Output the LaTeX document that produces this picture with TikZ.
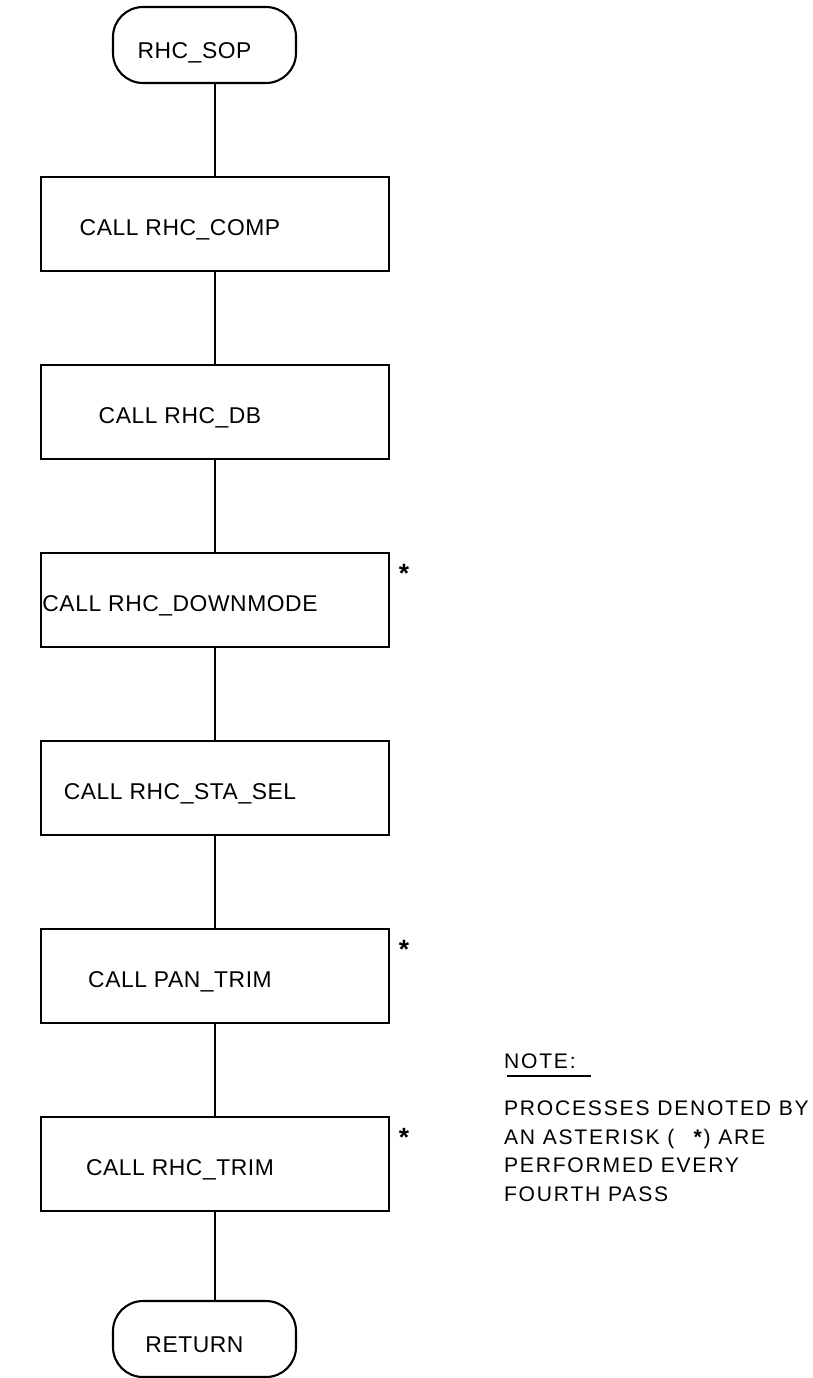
\documentclass[tikz,border=0pt]{standalone}
\usepackage{fontspec}
\setmainfont{Liberation Sans}[LetterSpace=2.5]
\newfontfamily\notefont{Liberation Sans}[LetterSpace=8.5]
\usetikzlibrary{positioning}

\begin{document}
\begin{tikzpicture}[node distance=1.88cm, every node/.style={font=\fontsize{13}{15}\selectfont},
    term/.style={draw, rounded corners=0.6cm, minimum width=3.66cm, minimum height=1.52cm,
                 outer sep=0pt, text height=15pt, text depth=0pt, execute at end node=\hspace*{0.4cm}},
    box/.style={draw, minimum width=6.96cm, minimum height=1.88cm, inner sep=0pt,
                outer sep=0pt, text height=12.6pt, text depth=0pt, execute at end node=\hspace*{1.4cm}},
    ast/.style={font=\bfseries\fontsize{15}{15}\selectfont, inner sep=0pt},
    note/.style={inner sep=0pt, align=left, font=\notefont\fontsize{12}{16.2}\selectfont},
    line width=1.2pt]
  \useasboundingbox (0,0) rectangle (16.24,-27.56);
  \node[term] (sop) at (4.09,-0.9) {RHC\_SOP};
  \node[box, below=of sop, xshift=0.21cm] (comp) {CALL RHC\_COMP};
  \node[box, below=of comp]  (db)    {CALL RHC\_DB};
  \node[box, below=of db]    (down)  {CALL RHC\_DOWNMODE};
  \node[box, below=of down]  (stasel) {CALL RHC\_STA\_SEL};
  \node[box, below=of stasel] (pan)  {CALL PAN\_TRIM};
  \node[box, below=of pan]   (rtrim) {CALL RHC\_TRIM};
  \node[term, below=1.8cm of rtrim, xshift=-0.21cm] (ret) {RETURN};
  \draw (comp.north |- sop.south)--(comp); \draw (comp)--(db); \draw (db)--(down);
  \draw (down)--(stasel); \draw (stasel)--(pan); \draw (pan)--(rtrim);
  \draw (rtrim)--(rtrim.south |- ret.north);
  % every fourth pass
  \node[ast] (astdown) at ([xshift=0.3cm,yshift=-0.40cm]down.north east) {*};
  \node[ast] (astpan)  at ([xshift=0.3cm,yshift=-0.40cm]pan.north east) {*};
  \node[ast] (asttrim) at ([xshift=0.3cm,yshift=-0.40cm]rtrim.north east) {*};
  \node[note, anchor=base west] (notehead) at (10.06,-21.36) {NOTE:};
  \draw[line width=1.5pt] ([xshift=0.08cm,yshift=-0.16cm]notehead.base west) -- ++(1.68,0);
  \node[note, anchor=base west] (notetext) at (10.06,-24.02)
    {PROCESSES DENOTED BY\\AN ASTERISK (\hspace{0.35cm}\textbf{*}) ARE\\PERFORMED EVERY\\FOURTH PASS};
\end{tikzpicture}
\end{document}
